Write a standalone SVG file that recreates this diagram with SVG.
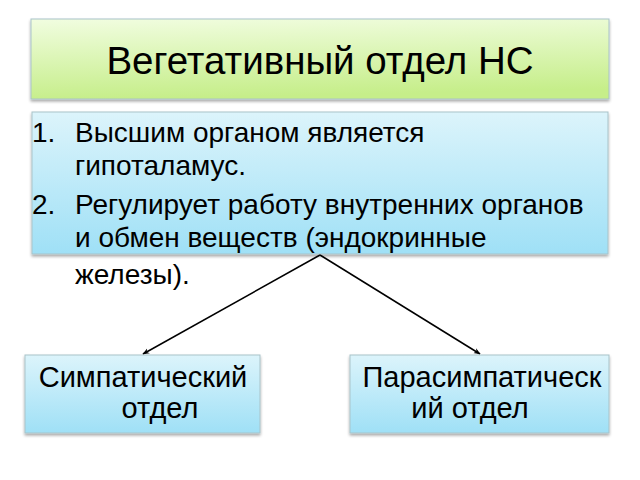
<svg xmlns="http://www.w3.org/2000/svg" width="640" height="480" viewBox="0 0 640 480">
<defs>
<linearGradient id="gGreen" x1="0" y1="0" x2="0.15" y2="1">
<stop offset="0" stop-color="#f1fde0"/>
<stop offset="1" stop-color="#c6ee8a"/>
</linearGradient>
<linearGradient id="gBlue" x1="0" y1="0" x2="0" y2="1">
<stop offset="0" stop-color="#dcf4fb"/>
<stop offset="1" stop-color="#9fe0f6"/>
</linearGradient>
<filter id="sh" x="-5%" y="-5%" width="110%" height="120%">
<feGaussianBlur in="SourceAlpha" stdDeviation="1.5"/>
<feOffset dx="0" dy="2" result="b"/>
<feComponentTransfer><feFuncA type="linear" slope="0.35"/></feComponentTransfer>
<feMerge><feMergeNode/><feMergeNode in="SourceGraphic"/></feMerge>
</filter>
<marker id="ah" viewBox="0 0 10 10" refX="9" refY="5" markerWidth="7" markerHeight="7" orient="auto" markerUnits="userSpaceOnUse">
<path d="M0,1 L10,5 L0,9 L3,5 z" fill="#000"/>
</marker>
</defs>
<style>
.box{stroke:#a9c3c9;stroke-width:1;filter:url(#sh)}
.t{font-family:"Liberation Sans",Arial,sans-serif;fill:#000}
.conn{stroke:#000;stroke-width:1.5;fill:none;marker-end:url(#ah)}
</style>
<rect width="640" height="480" fill="#fff"/>
<g id="title">
<rect class="box" x="31" y="19" width="578" height="80" fill="url(#gGreen)" stroke="#c5d0b0"/>
<text class="t" x="320" y="74" font-size="38.5" text-anchor="middle">Вегетативный отдел НС</text>
</g>
<g id="info">
<rect class="box" x="32" y="112" width="576" height="142" fill="url(#gBlue)"/>
<g class="t" font-size="28">
<text x="32" y="142">1.</text>
<text x="75" y="142">Высшим органом является</text>
<text x="75" y="175">гипоталамус.</text>
<text x="32" y="214">2.</text>
<text x="75" y="214">Регулирует работу внутренних органов</text>
<text x="75" y="247">и обмен веществ (эндокринные</text>
<text x="75" y="284">железы).</text>
</g>
</g>
<g id="connectors">
<line class="conn" x1="320" y1="255" x2="143" y2="354"/>
<line class="conn" x1="320" y1="255" x2="480" y2="354"/>
</g>
<g id="symp">
<rect class="box" x="25" y="355" width="235" height="78" fill="url(#gBlue)"/>
<text class="t" x="143" y="387" font-size="29" text-anchor="middle">Симпатический</text>
<text class="t" x="160" y="418" font-size="29" text-anchor="middle">отдел</text>
</g>
<g id="parasymp">
<rect class="box" x="350" y="355" width="259" height="78" fill="url(#gBlue)"/>
<text class="t" x="482" y="387" font-size="29" text-anchor="middle">Парасимпатическ</text>
<text class="t" x="470" y="418" font-size="29" text-anchor="middle">ий отдел</text>
</g>
</svg>
